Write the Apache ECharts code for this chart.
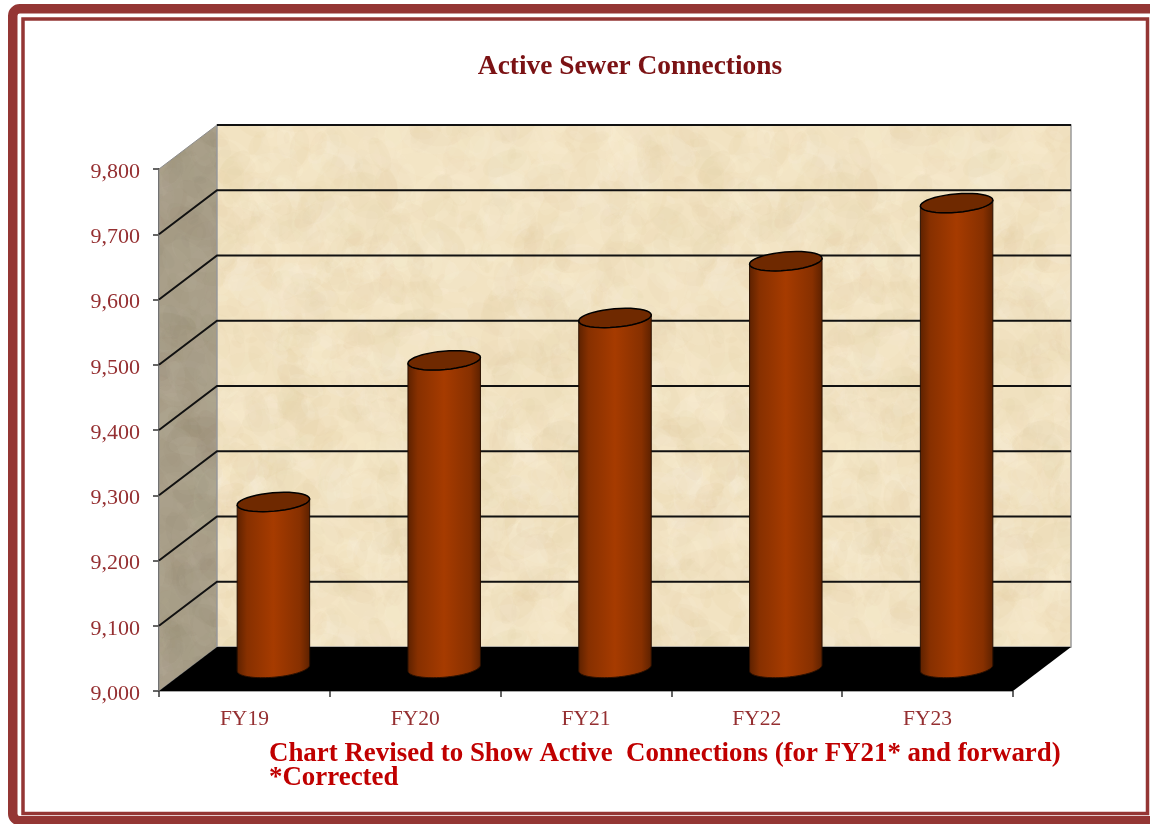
<!DOCTYPE html>
<html>
<head>
<meta charset="utf-8">
<title>Active Sewer Connections</title>
<style>
	html, body { margin: 0; padding: 0; background: #fff; }
	#chart { width: 1150px; height: 824px; }
</style>
<script src="https://cdn.jsdelivr.net/npm/echarts@6/dist/echarts.min.js"></script>
</head>
<body>
<div id="chart"></div>
<script>
	const categories = ['FY19', 'FY20', 'FY21', 'FY22', 'FY23']
	const connections = [9256, 9473, 9538, 9625, 9714]
	const yTicks = [9000, 9100, 9200, 9300, 9400, 9500, 9600, 9700, 9800]
	const chartTitle = 'Active Sewer Connections'
	const footNote = 'Chart Revised to Show Active  Connections (for FY21* and forward)\n*Corrected'

	const serif = '"Liberation Serif", serif'
	const yMin = yTicks[0]
	const yMax = yTicks[yTicks.length - 1]
	// how far the back wall sits from the axis plane
	const depthX = 58
	const depthY = -44
	const tilt = -5 * Math.PI / 180

	// mottled paper texture for the walls, no Math.random so every run looks the same
	function makeTexture(base, light, dark) {
		const size = 480
		const cv = document.createElement('canvas')
		cv.width = size
		cv.height = size
		const ctx = cv.getContext('2d')
		ctx.fillStyle = base
		ctx.fillRect(0, 0, size, size)
		let seed = 7
		const next = () => {
			seed = (seed * 16807) % 2147483647
			return seed / 2147483647
		}
		for (let i = 0; i < 1800; i++) {
			const x = next() * size
			const y = next() * size
			const r = 3 + next() * 16
			const rot = next() * 3
			ctx.globalAlpha = 0.06 + next() * 0.09
			ctx.fillStyle = next() > 0.5 ? light : dark
			// draw wrapped so the tile has no seams
			for (let ox = -size; ox <= size; ox += size) {
				for (let oy = -size; oy <= size; oy += size) {
					ctx.beginPath()
					ctx.ellipse(x + ox, y + oy, r * 1.4, r * 0.7, rot, 0, Math.PI * 2)
					ctx.fill()
				}
			}
		}
		return cv
	}
	const backTexture = { image: makeTexture('#f2e3c2', '#fbf3df', '#e4d0a6'), repeat: 'repeat' }
	const sideTexture = { image: makeTexture('#a89e88', '#b9b09c', '#988d75'), repeat: 'repeat' }

	function renderWalls(params, api) {
		const sys = params.coordSys
		const left = sys.x
		const right = sys.x + sys.width
		const top = api.coord([0, yMax])[1]
		const bottom = api.coord([0, yMin])[1]
		const children = [
			{ type: 'polygon', shape: { points: [[left, bottom], [left, top], [left + depthX, top + depthY], [left + depthX, bottom + depthY]] },
				style: { fill: sideTexture, stroke: '#8d8d8d', lineWidth: 1 } },
			{ type: 'rect', shape: { x: left + depthX, y: top + depthY, width: sys.width, height: bottom - top },
				style: { fill: backTexture, stroke: '#9a9a9a', lineWidth: 1.5 } },
			{ type: 'polygon', shape: { points: [[left, bottom], [left + depthX, bottom + depthY], [right + depthX, bottom + depthY], [right, bottom]] },
				style: { fill: '#000' } }
		]
		// grid lines run from the axis, up the side wall and across the back
		yTicks.forEach((t) => {
			if (t === yMin) return
			const y = api.coord([0, t])[1]
			// the top edge of the side wall has no black line in the original
			const pts = t === yMax
				? [[left + depthX, y + depthY], [right + depthX, y + depthY]]
				: [[left, y], [left + depthX, y + depthY], [right + depthX, y + depthY]]
			children.push({
				type: 'polyline',
				shape: { points: pts },
				style: { fill: null, stroke: '#111', lineWidth: 2 }
			})
		})
		return { type: 'group', children: children }
	}

	function ellipsePoints(cx, cy, a, b, from, to) {
		const pts = []
		const n = 40
		for (let i = 0; i <= n; i++) {
			const t = from + (to - from) * i / n
			const ex = a * Math.cos(t)
			const ey = b * Math.sin(t)
			pts.push([cx + ex * Math.cos(tilt) - ey * Math.sin(tilt), cy + ex * Math.sin(tilt) + ey * Math.cos(tilt)])
		}
		return pts
	}

	function renderCylinder(params, api) {
		const idx = api.value(0)
		const topPt = api.coord([idx, api.value(1)])
		const basePt = api.coord([idx, yMin])
		const cx = topPt[0] + depthX / 2
		const topY = topPt[1] + depthY / 2
		const baseY = basePt[1] + depthY / 2 - 1
		const a = api.size([1, 0])[0] * 0.213
		const b = 9.2
		// body: lower half of the foot ellipse, then back along the lower half of the cap
		const body = ellipsePoints(cx, baseY, a, b, Math.PI, 0)
			.concat(ellipsePoints(cx, topY, a, b, 0, Math.PI))
		return {
			type: 'group',
			children: [
				{
					type: 'polygon',
					shape: { points: body },
					style: {
						stroke: '#2a1000',
						lineWidth: 1,
						fill: {
							type: 'linear', x: 0, y: 0, x2: 1, y2: 0,
							colorStops: [
								{ offset: 0, color: '#5c2100' },
								{ offset: 0.14, color: '#873000' },
								{ offset: 0.5, color: '#a63b00' },
								{ offset: 0.86, color: '#873000' },
								{ offset: 1, color: '#5c2100' }
							]
						}
					}
				},
				{
					type: 'polygon',
					shape: { points: ellipsePoints(cx, topY, a, b, 0, Math.PI * 2) },
					style: { fill: '#6f2900', stroke: '#000', lineWidth: 1.5 }
				}
			]
		}
	}

	const chart = echarts.init(document.getElementById('chart'))
	chart.setOption({
		animation: false,
		backgroundColor: '#fff',
		title: {
			text: chartTitle,
			left: 625,
			top: 48,
			textAlign: 'center',
			textStyle: { fontFamily: serif, fontSize: 27.4, fontWeight: 'bold', color: '#7b1214' }
		},
		grid: { left: 159, right: 137, top: 169, bottom: 133 },
		xAxis: {
			type: 'category',
			data: categories,
			boundaryGap: true,
			axisLine: { lineStyle: { color: '#8a8a8a', width: 1.5 } },
			axisTick: { show: true, length: 6, alignWithLabel: false, lineStyle: { color: '#333', width: 1.5 } },
			axisLabel: { margin: 17, fontFamily: serif, fontSize: 21.5, color: '#952f31' }
		},
		yAxis: {
			type: 'value',
			min: yMin,
			max: yMax,
			interval: 100,
			axisLine: { show: true, lineStyle: { color: '#222', width: 1.5 } },
			axisTick: { show: true, length: 6, lineStyle: { color: '#333', width: 1.5 } },
			splitLine: { show: false },
			axisLabel: {
				margin: 19,
				// labels sit a few px under their tick in the original
				verticalAlign: 'top',
				lineHeight: 6,
				fontFamily: serif,
				fontSize: 22,
				color: '#952f31',
				formatter: (v) => String(v).replace(/(\d)(\d{3})$/, '$1,$2')
			}
		},
		graphic: [
			// double border
			{ type: 'rect', shape: { x: 12.75, y: 8.75, width: 1150, height: 812, r: 7 },
				style: { fill: null, stroke: '#943634', lineWidth: 9.5 } },
			{ type: 'rect', shape: { x: 23, y: 19, width: 1124.5, height: 794.5 },
				style: { fill: null, stroke: '#943634', lineWidth: 3.5 } },
			{ type: 'text', x: 269, y: 742,
				style: { text: footNote, fontFamily: serif, fontSize: 26.9, fontWeight: 'bold', fill: '#c00000', lineHeight: 24 } }
		],
		series: [
			{ type: 'custom', renderItem: renderWalls, data: [[0, yMin]], z: 1, silent: true },
			{
				type: 'custom',
				renderItem: renderCylinder,
				data: connections.map((v, i) => [i, v]),
				encode: { x: 0, y: 1 },
				z: 2
			}
		]
	})
</script>
</body>
</html>
